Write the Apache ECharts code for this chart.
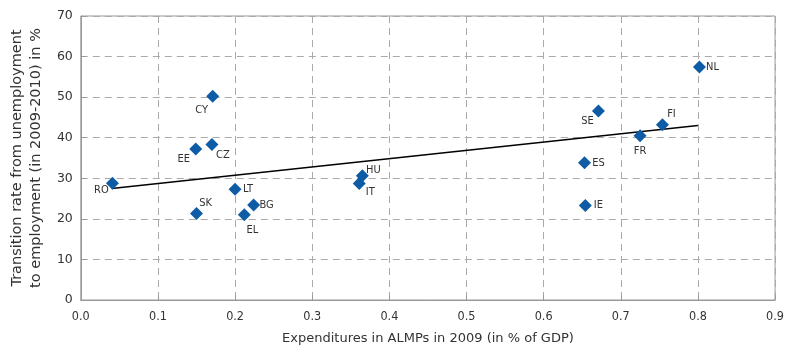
<!DOCTYPE html>
<html><head><meta charset="utf-8">
<script src="https://cdn.jsdelivr.net/npm/echarts@6/dist/echarts.min.js"></script>
<style>html,body{margin:0;padding:0;background:#fff}#c{width:787px;height:351px}</style>
</head><body><div id="c"></div>
<script>
const countries = ['RO','CY','EE','CZ','SK','LT','EL','BG','HU','IT','NL','SE','FI','FR','ES','IE'];
const almpSpend = [0.041,0.171,0.149,0.170,0.150,0.200,0.212,0.224,0.365,0.361,0.802,0.671,0.754,0.725,0.653,0.654];
const transitionRate = [28.8,50.2,37.2,38.3,21.3,27.3,21.0,23.4,30.6,28.7,57.4,46.6,43.2,40.5,33.8,23.3];
const trendX = [0.04, 0.80];
const trendY = [27.5, 43.0];

// label placement (style only)
const labelOffsets = {
  RO:[-11,7], CY:[-11,14], EE:[-12,10], CZ:[11,11], SK:[9,-10], LT:[13,0],
  EL:[8,15], BG:[13,0], HU:[11,-6], IT:[11,9], NL:[13,0], SE:[-11,10],
  FI:[9,-11], FR:[0,15], ES:[14,0], IE:[13,0]
};
const font = 'DejaVu Sans Condensed';
const pts = countries.map((c,i)=>({
  value:[almpSpend[i], transitionRate[i]], name:c,
  label:{show:true, formatter:c, position:'inside', offset:labelOffsets[c],
    align:'center', verticalAlign:'middle'}
}));

const chart = echarts.init(document.getElementById('c'), null, {renderer:'canvas'});
chart.setOption({
  animation:false,
  grid:{left:80, right:9, top:16, bottom:51, show:true, borderColor:'#999', borderWidth:1},
  xAxis:{type:'value', min:0, max:0.9, interval:0.1,
    name:'Expenditures in ALMPs in 2009 (in % of GDP)', nameLocation:'middle', nameGap:32,
    nameTextStyle:{fontFamily:'DejaVu Sans', fontSize:13, color:'#333'},
    axisLine:{show:true, lineStyle:{color:'#999'}},
    axisTick:{show:true, inside:true, length:5, lineStyle:{color:'#999'}},
    axisLabel:{fontFamily:font, fontSize:12.5, color:'#333', margin:10, formatter:v=>v.toFixed(1)},
    splitLine:{show:true, lineStyle:{type:[7,5], color:'#aaa'}}
  },
  yAxis:{type:'value', min:0, max:70, interval:10,
    name:'Transition rate from unemployment\nto employment (in 2009-2010) in %', nameLocation:'middle', nameGap:33,
    nameTextStyle:{fontFamily:'DejaVu Sans', fontSize:14.5, color:'#333', lineHeight:19},
    axisLine:{show:true, lineStyle:{color:'#999'}},
    axisTick:{show:true, inside:true, length:5, lineStyle:{color:'#999'}},
    axisLabel:{fontFamily:'DejaVu Sans', fontSize:12.5, color:'#333', margin:8},
    splitLine:{show:true, lineStyle:{type:[7,5], color:'#aaa'}}
  },
  series:[
    {type:'line', data:trendX.map((x,i)=>[x,trendY[i]]), symbol:'none',
     lineStyle:{color:'#000', width:1.5}, z:2},
    {type:'scatter', data:pts, symbol:'diamond', symbolSize:13,
     itemStyle:{color:'#0f5ca6', opacity:1},
     label:{fontFamily:font, fontSize:11, color:'#333'}, z:3}
  ]
});
</script></body></html>
